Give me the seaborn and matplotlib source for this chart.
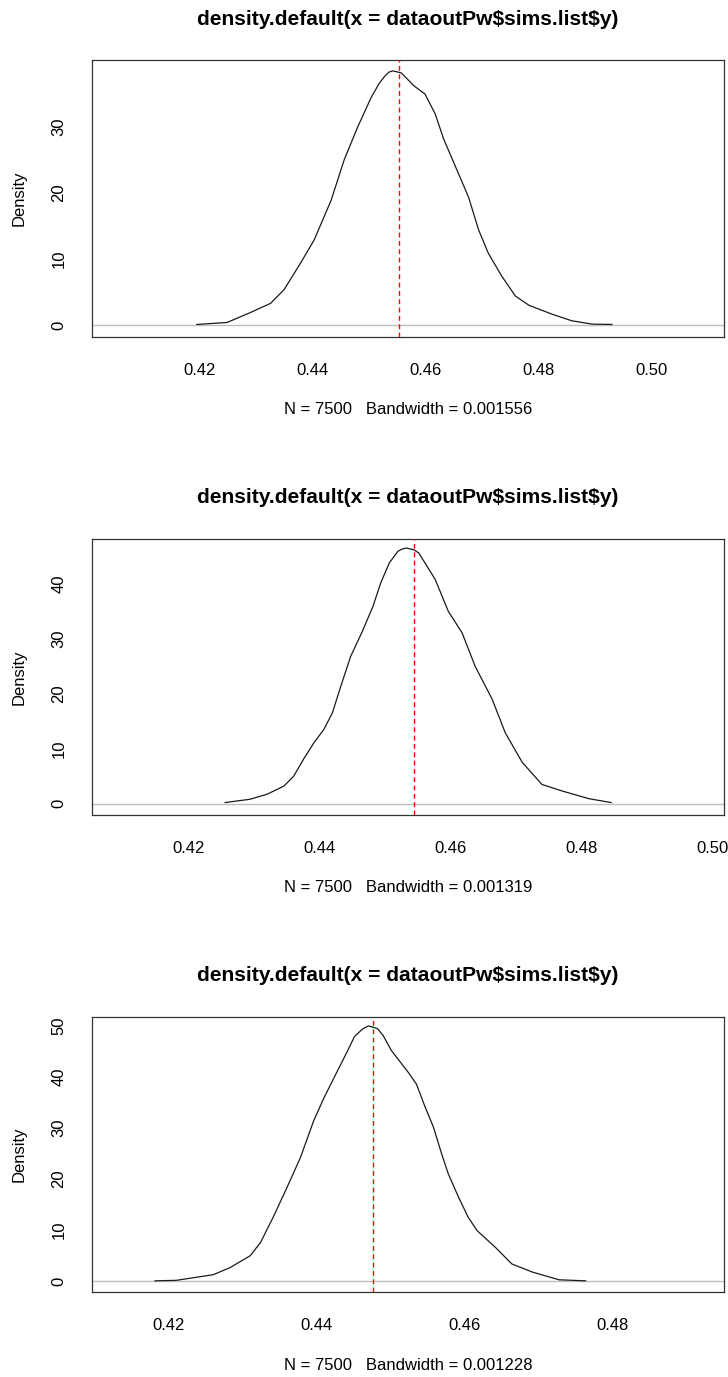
"""
Three stacked kernel density plots in the style of R's plot(density(...)).
"""

import matplotlib
matplotlib.use("Agg")
import matplotlib.pyplot as plt
import seaborn as sns

# Curve points, one list pair per panel.
x1 = [0.4195, 0.4249, 0.4290, 0.4326, 0.4350, 0.4379, 0.4403, 0.4433, 0.4456,
      0.4480, 0.4504, 0.4518, 0.4528, 0.4535, 0.4542, 0.4557, 0.4580, 0.4599,
      0.4617, 0.4632, 0.4658, 0.4676, 0.4694, 0.4711, 0.4735, 0.4759, 0.4783,
      0.4824, 0.4859, 0.4895, 0.4930]
y1 = [0.1, 0.4, 1.9, 3.3, 5.4, 9.4, 12.9, 18.9, 25.0,
      30.0, 34.5, 36.6, 37.7, 38.3, 38.5, 38.2, 36.2, 35.0,
      32.0, 28.2, 23.0, 19.4, 14.4, 10.9, 7.4, 4.4, 3.0,
      1.65, 0.65, 0.15, 0.1]

x2 = [0.4256, 0.4294, 0.4320, 0.4346, 0.4361, 0.4376, 0.4392, 0.4407, 0.4420,
      0.4433, 0.4448, 0.4466, 0.4482, 0.4494, 0.4507, 0.4520, 0.4526, 0.4533,
      0.4544, 0.4552, 0.4577, 0.4597, 0.4618, 0.4638, 0.4664, 0.4684, 0.4710,
      0.4740, 0.4771, 0.4812, 0.4846]
y2 = [0.2, 0.8, 1.7, 3.2, 5.0, 8.1, 11.1, 13.5, 16.5,
      21.4, 26.8, 31.4, 35.9, 40.2, 43.8, 45.9, 46.3, 46.5,
      46.2, 45.6, 40.8, 35.0, 31.1, 25.0, 19.0, 12.9, 7.5,
      3.5, 2.3, 0.9, 0.2]

x3 = [0.4181, 0.4210, 0.4260, 0.4283, 0.4310, 0.4324, 0.4342, 0.4360, 0.4378,
      0.4396, 0.4410, 0.4428, 0.4442, 0.4451, 0.4462, 0.4470, 0.4482, 0.4490,
      0.4501, 0.4524, 0.4535, 0.4546, 0.4558, 0.4569, 0.4578, 0.4592, 0.4605,
      0.4617, 0.4642, 0.4664, 0.4692, 0.4728, 0.4764]
y3 = [0.1, 0.2, 1.3, 2.7, 5.0, 7.6, 12.8, 18.4, 24.2,
      31.4, 35.9, 41.1, 45.1, 47.8, 49.3, 49.9, 49.4, 48.0,
      45.1, 40.8, 38.5, 34.3, 30.1, 24.9, 21.0, 16.4, 12.5,
      9.9, 6.6, 3.4, 1.8, 0.3, 0.1]

mean_lines = [0.4553, 0.4544, 0.4476]
bandwidths = ["0.001556", "0.001319", "0.001228"]
n_obs = 7500
title = "density.default(x = dataoutPw$sims.list$y)"

x_ticks = [
    [0.42, 0.44, 0.46, 0.48, 0.50],
    [0.42, 0.44, 0.46, 0.48, 0.50],
    [0.42, 0.44, 0.46, 0.48],
]
y_ticks = [[0, 10, 20, 30], [0, 10, 20, 30, 40], [0, 10, 20, 30, 40, 50]]
x_limits = [(0.4010, 0.5128), (0.4053, 0.5018), (0.4096, 0.4951)]
y_limits = [(-1.8, 40.1), (-2.06, 48.2), (-2.08, 51.7)]

# Axes boxes in pixels: (top, bottom), shared left/right.
W, H = 728, 1377
LEFT, RIGHT = 92, 724
BOXES = [(60.3, 337.0), (538.7, 815.0), (1016.7, 1292.0)]


def draw_panel(fig, idx, xs, ys):
    top, bottom = BOXES[idx]
    ax = fig.add_axes([LEFT / W, 1 - bottom / H,
                       (RIGHT - LEFT) / W, (bottom - top) / H])
    ax_h = bottom - top

    ax.axhline(0, color="#BEBEBE", lw=1.0, zorder=1)
    sns.lineplot(x=xs, y=ys, ax=ax, color="#1a1a1a", lw=0.9,
                 estimator=None, zorder=2,
                 solid_joinstyle="round", solid_capstyle="round")
    ax.axvline(mean_lines[idx], color="#FF0000", lw=1.0,
               linestyle=(0, (3.5, 2.5)), zorder=3)

    ax.set_xlim(*x_limits[idx])
    ax.set_ylim(*y_limits[idx])
    ax.set_xticks(x_ticks[idx])
    ax.set_xticklabels([f"{t:.2f}" for t in x_ticks[idx]])
    ax.set_yticks(y_ticks[idx])
    ax.set_yticklabels([str(t) for t in y_ticks[idx]],
                       rotation=90, va="center")

    ax.tick_params(direction="out", length=7, width=0.8, color="#333333",
                   labelsize=12, pad=11.5, labelcolor="black")
    for spine in ax.spines.values():
        spine.set_visible(True)
        spine.set_color("#333333")
        spine.set_linewidth(0.9)

    ax.set_title(title, fontsize=15.1, fontweight="bold", color="black",
                 y=1 + 41 / ax_h, pad=0, va="center", parse_math=False)
    ax.set_xlabel(f"N = {n_obs}   Bandwidth = {bandwidths[idx]}",
                  fontsize=12, color="black")
    ax.xaxis.set_label_coords(0.5, -73 / ax_h)
    ax.xaxis.label.set_va("center")
    ax.set_ylabel("Density", fontsize=12, color="black")
    ax.yaxis.set_label_coords(-(LEFT - 19.6) / (RIGHT - LEFT), 0.5)
    ax.yaxis.label.set_va("center")
    ax.grid(False)
    return ax


def main():
    sns.set_style("white")
    plt.rcParams["font.family"] = ["Liberation Sans", "DejaVu Sans"]

    fig = plt.figure(figsize=(W / 100, H / 100), dpi=100)
    fig.patch.set_facecolor("white")
    for i, (xs, ys) in enumerate([(x1, y1), (x2, y2), (x3, y3)]):
        draw_panel(fig, i, xs, ys)

    fig.savefig("out.png", dpi=100)


if __name__ == "__main__":
    main()
